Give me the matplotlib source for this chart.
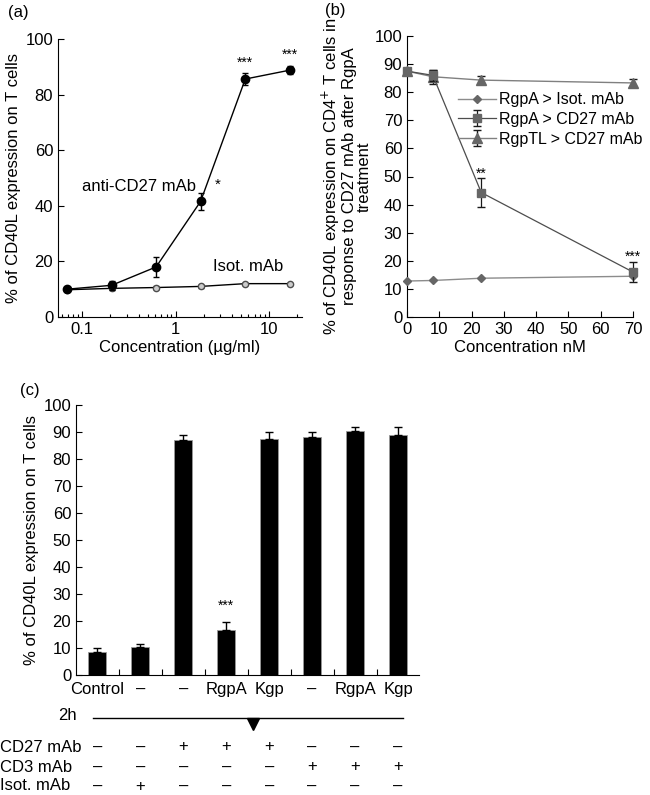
import numpy as np
import matplotlib

matplotlib.use("Agg")
import matplotlib.pyplot as plt
from matplotlib.ticker import LogLocator, NullFormatter
from matplotlib.transforms import blended_transform_factory

plt.rcParams["font.family"] = ["Liberation Sans", "DejaVu Sans"]
plt.rcParams["font.size"] = 12
plt.rcParams["xtick.direction"] = "in"
plt.rcParams["ytick.direction"] = "in"

# (a) dose response
conc_a = [0.0686, 0.206, 0.617, 1.85, 5.56, 16.7]
cd27_a = [10.0, 11.4, 18.0, 41.6, 85.6, 88.8]
cd27_a_err = [0.6, 1.6, 3.5, 3.0, 2.3, 1.4]
isot_a = [9.8, 10.3, 10.6, 11.0, 12.0, 12.0]
isot_a_err = [0.4, 0.4, 0.4, 0.4, 0.4, 0.4]

# (b) protease pretreatment
conc_b = [0, 8, 23, 70]
rgpa_isot = [12.8, 13.0, 13.8, 14.5]
rgpa_cd27 = [87.5, 86.0, 44.3, 16.0]
rgpa_cd27_err = [1.0, 2.0, 5.2, 3.5]
rgptl_cd27 = [87.5, 85.5, 84.3, 83.3]
rgptl_cd27_err = [1.0, 2.5, 1.5, 1.5]

# (c) bar chart
bar_labels = ["Control", "\u2013", "\u2013", "RgpA", "Kgp", "\u2013", "RgpA", "Kgp"]
bar_vals = [8.6, 10.5, 87.0, 16.5, 87.5, 88.0, 90.5, 89.0]
bar_err = [1.5, 1.0, 2.0, 3.0, 2.5, 2.0, 1.5, 3.0]
row_names = ["CD27 mAb", "CD3 mAb", "Isot. mAb"]
row_signs = [
    ["\u2013", "\u2013", "+", "+", "+", "\u2013", "\u2013", "\u2013"],
    ["\u2013", "\u2013", "\u2013", "\u2013", "\u2013", "+", "+", "+"],
    ["\u2013", "+", "\u2013", "\u2013", "\u2013", "\u2013", "\u2013", "\u2013"],
]

fig = plt.figure(figsize=(6.5, 7.95), dpi=100)
W, H = 650.0, 795.0


def add_ax(x0, y0, x1, y1):
    return fig.add_axes([x0 / W, 1 - y1 / H, (x1 - x0) / W, (y1 - y0) / H])


# ---- panel (a)
ax = add_ax(58, 39, 302, 317)
ax.errorbar(conc_a, isot_a, yerr=isot_a_err, color="black", lw=1.0,
            marker="o", ms=4.5, mfc="0.8", mec="0.3", mew=1.0,
            ecolor="0.3", capsize=2.5, zorder=2)
ax.errorbar(conc_a, cd27_a, yerr=cd27_a_err, color="black", lw=1.0,
            marker="o", ms=6, mfc="black", mec="black",
            ecolor="black", capsize=2.5, zorder=3)
ax.set_xscale("log")
ax.set_xlim(0.055, 22.5)
ax.set_ylim(0, 100)
ax.set_yticks(range(0, 101, 20))
ax.set_xticks([0.1, 1, 10])
ax.set_xticklabels(["0.1", "1", "10"])
ax.xaxis.set_minor_locator(LogLocator(base=10, subs=np.arange(2, 10)))
ax.xaxis.set_minor_formatter(NullFormatter())
ax.tick_params(labelsize=12, length=4, width=0.8)
ax.tick_params(which="minor", length=2.5, width=0.8)
for s in ["top", "right"]:
    ax.spines[s].set_visible(False)
ax.set_xlabel("Concentration (\u00b5g/ml)", fontsize=12, labelpad=2)
ax.set_ylabel("% of CD40L expression on T cells", fontsize=12, labelpad=3)
ax.text(0.1, 46.8, "anti-CD27 mAb", fontsize=12, va="center")
ax.text(2.8, 47.5, "*", fontsize=11, ha="center", va="center")
ax.text(2.5, 18.3, "Isot. mAb", fontsize=12, va="center")
ax.text(5.56, 91.5, "***", fontsize=10, ha="center", va="center")
ax.text(16.7, 94.2, "***", fontsize=10, ha="center", va="center")
fig.text(8 / W, 1 - 13 / H, "(a)", fontsize=12, va="center")

# ---- panel (b)
bx = add_ax(407, 36, 633, 317)
bx.plot(conc_b, rgpa_isot, color="0.55", lw=1.0, marker="D", ms=4.5,
        mfc="0.4", mec="0.4", label="RgpA > Isot. mAb", clip_on=False, zorder=3)
bx.errorbar(conc_b, rgpa_cd27, yerr=rgpa_cd27_err, color="0.3", lw=0.9,
            marker="s", ms=6, mfc="0.4", mec="0.4", ecolor="0.1",
            capsize=3, label="RgpA > CD27 mAb", clip_on=False, zorder=4)
bx.errorbar(conc_b, rgptl_cd27, yerr=rgptl_cd27_err, color="0.5", lw=1.0,
            marker="^", ms=7, mfc="0.4", mec="0.4", ecolor="0.1",
            capsize=3, label="RgpTL > CD27 mAb", clip_on=False, zorder=3)
bx.set_xlim(0, 70)
bx.set_ylim(0, 100)
bx.set_xticks(range(0, 71, 10))
bx.set_yticks(range(0, 101, 10))
bx.tick_params(labelsize=12, length=4, width=0.8)
for s in ["top", "right"]:
    bx.spines[s].set_visible(False)
bx.set_xlabel("Concentration nM", fontsize=12, labelpad=2)
bx.set_ylabel("% of CD40L expression on CD4$^{+}$ T cells in\n"
              "response to CD27 mAb after RgpA\ntreatment",
              fontsize=12, labelpad=2, linespacing=1.0)
bx.text(23, 51, "**", fontsize=10, ha="center", va="center")
bx.text(70, 21.5, "***", fontsize=10, ha="center", va="center")
handles, labels = bx.get_legend_handles_labels()
bx.legend(handles, labels, loc="upper left", bbox_to_anchor=(0.225, 0.80),
          frameon=False, fontsize=11.5, handlelength=2.4, handletextpad=0.2,
          labelspacing=0.3, borderaxespad=0, borderpad=0)
fig.text(325 / W, 1 - 10 / H, "(b)", fontsize=12, va="center")

# ---- panel (c)
cx = add_ax(76, 405, 419.5, 675)
pos = np.arange(len(bar_vals))
cx.bar(pos, bar_vals, width=0.42, color="black", edgecolor="0.6", lw=0.6,
       yerr=[np.zeros(len(bar_err)), bar_err], ecolor="black",
       error_kw=dict(capsize=3, elinewidth=1.0, capthick=1.0))
cx.set_xlim(-0.5, len(bar_vals) - 0.5)
cx.set_ylim(0, 100)
cx.set_yticks(range(0, 101, 10))
cx.set_xticks(np.arange(0.5, len(bar_vals) - 0.5, 1.0))
cx.set_xticklabels([])
cx.set_xticks(pos, minor=True)
cx.set_xticklabels(bar_labels, minor=True)
cx.tick_params(labelsize=12, length=4, width=0.8)
cx.tick_params(axis="x", which="minor", length=0, pad=5, labelsize=12)
for s in ["top", "right"]:
    cx.spines[s].set_visible(False)
cx.set_ylabel("% of CD40L expression on T cells", fontsize=12, labelpad=3)
cx.text(3, 25.5, "***", fontsize=10, ha="center", va="center")
fig.text(20 / W, 1 - 390 / H, "(c)", fontsize=12, va="center")

tr = blended_transform_factory(cx.transData, fig.transFigure)
y2h = 1 - 718 / H
cx.plot([-0.1, 7.12], [y2h, y2h], color="black", lw=1.0, transform=tr,
        clip_on=False)
cx.plot([3.63], [y2h - 0.007], marker="v", ms=8, color="black",
        transform=tr, clip_on=False)
fig.text(77 / W, y2h + 0.003, "2h", fontsize=12, ha="right", va="center")
row_y = [1 - 747 / H, 1 - 767 / H, 1 - 786 / H]
for name, signs, yy in zip(row_names, row_signs, row_y):
    fig.text(0.0, yy, name, fontsize=12, ha="left", va="center")
    for i, sg in enumerate(signs):
        cx.text(pos[i], yy, sg, fontsize=12, ha="center", va="center",
                transform=tr)

fig.savefig("out.png", dpi=100)
